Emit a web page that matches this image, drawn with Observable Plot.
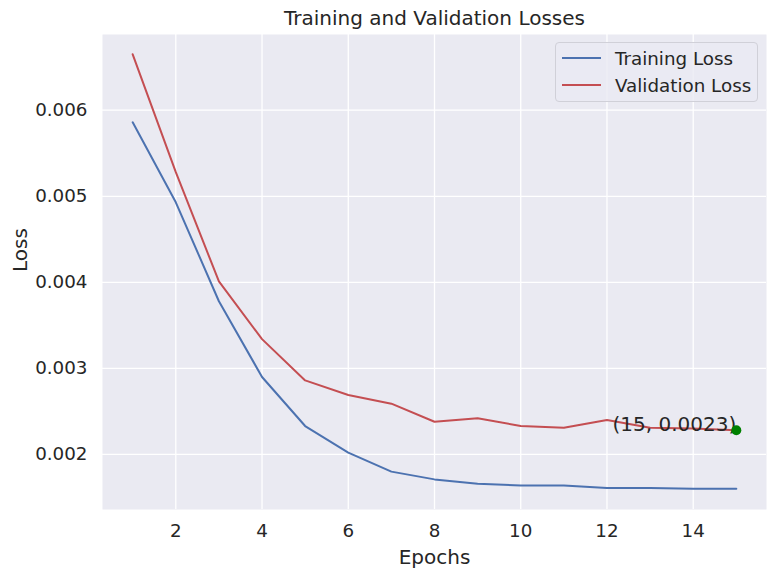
<!DOCTYPE html>
<html><head>
<meta charset="utf-8">
<script src="https://cdn.jsdelivr.net/npm/d3@7"></script>
<script src="https://cdn.jsdelivr.net/npm/@observablehq/plot@0.6"></script>
<style>
body{margin:0;background:#fff;font-family:"DejaVu Sans",sans-serif}
#wrap{position:relative;width:776px;height:576px}
#legend{position:absolute;left:555px;top:42px;width:201px;height:58px;border:1px solid #d0d0d8;border-radius:4px;background:rgba(234,234,242,0.8);font-size:18.3px;color:#262626}
.row{position:absolute;left:0;height:24px;display:flex;align-items:center}
.sw{width:39px;height:2px;margin-left:6px;margin-right:14px}
</style></head><body>
<div id="wrap"><div id="legend"></div></div>
<script>
const epochs = [1,2,3,4,5,6,7,8,9,10,11,12,13,14,15];
const trainingLoss = [0.00586,0.00493,0.00378,0.00290,0.00233,0.00202,0.00180,0.00171,0.00166,0.00164,0.00164,0.00161,0.00161,0.00160,0.00160];
const validationLoss = [0.00665,0.00528,0.00401,0.00334,0.00286,0.00269,0.00259,0.00238,0.00242,0.00233,0.00231,0.00240,0.00231,0.00230,0.00228];
const seriesNames = ["Training Loss","Validation Loss"];
const seriesColors = ["#4C72B0","#C44E52"];
const xTicks = [2,4,6,8,10,12,14];
const yTicks = [0.002,0.003,0.004,0.005,0.006];
const highlight = {epoch: 15, loss: 0.00228, label: "(15, 0.0023)"};

const train = epochs.map((e,i)=>({epoch:e, loss:trainingLoss[i]}));
const val = epochs.map((e,i)=>({epoch:e, loss:validationLoss[i]}));
const fs = 18.3;
const fl = 20;
const ink = "#262626";

const chart = Plot.plot({
  width: 776, height: 576,
  marginLeft: 102, marginRight: 10, marginTop: 34, marginBottom: 67,
  style: {fontFamily: "DejaVu Sans, sans-serif", fontSize: fs + "px", color: ink, background: "white"},
  x: {domain: [0.3, 15.7], ticks: xTicks},
  y: {domain: [0.00136, 0.00688], ticks: yTicks},
  marks: [
    Plot.frame({fill: "#eaeaf2", stroke: null}),
    Plot.gridX(xTicks, {stroke: "white", strokeOpacity: 1, strokeWidth: 1.3}),
    Plot.gridY(yTicks, {stroke: "white", strokeOpacity: 1, strokeWidth: 1.3}),
    Plot.axisX(xTicks, {tickSize: 0, tickPadding: 14, fontSize: fs, fill: ink, label: null}),
    Plot.axisY(yTicks, {tickSize: 0, tickPadding: 15, fontSize: fs, fill: ink, label: null, tickFormat: d3.format(".3f")}),
    Plot.lineY(train, {x: "epoch", y: "loss", stroke: seriesColors[0], strokeWidth: 2}),
    Plot.lineY(val, {x: "epoch", y: "loss", stroke: seriesColors[1], strokeWidth: 2}),
    Plot.text([highlight], {x: "epoch", y: "loss", text: "label", textAnchor: "end", lineAnchor: "middle", dy: -6, fontSize: fl, fill: ink}),
    Plot.dot([highlight], {x: "epoch", y: "loss", r: 5, fill: "green", stroke: null}),
    Plot.text(["Epochs"], {frameAnchor: "bottom", lineAnchor: "middle", dy: 48, fontSize: fl, fill: ink}),
    Plot.text(["Loss"], {frameAnchor: "left", dx: -82, rotate: -90, fontSize: fl, fill: ink}),
    Plot.text(["Training and Validation Losses"], {frameAnchor: "top", lineAnchor: "middle", dy: -16, fontSize: fl, fill: ink})
  ]
});
const wrap = document.getElementById("wrap");
wrap.insertBefore(chart, wrap.firstChild);
chart.style.display = "block";

const legend = document.getElementById("legend");
seriesNames.forEach((n,i)=>{
  const r = document.createElement("div");
  r.className = "row";
  r.style.top = (3 + i*27) + "px";
  const s = document.createElement("div");
  s.className = "sw"; s.style.background = seriesColors[i];
  const t = document.createElement("span"); t.textContent = n;
  r.appendChild(s); r.appendChild(t);
  legend.appendChild(r);
});
</script>
</body></html>
